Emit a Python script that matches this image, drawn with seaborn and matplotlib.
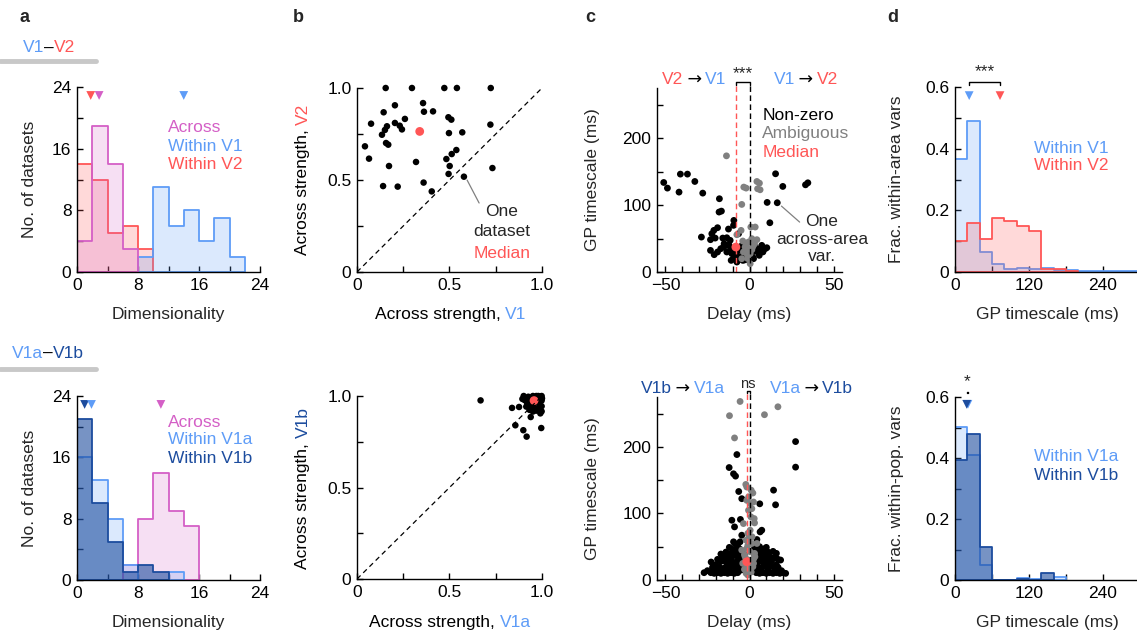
import numpy as np
import pandas as pd
import matplotlib
matplotlib.use("Agg")
import matplotlib.pyplot as plt
import seaborn as sns
from matplotlib.lines import Line2D

# style
sns.set_theme(style="ticks")
plt.rcParams["font.family"] = ["Liberation Sans", "DejaVu Sans"]
plt.rcParams["axes.linewidth"] = 1.0
plt.rcParams["axes.edgecolor"] = "black"

BLUE = "#5e9cf7"
RED = "#ff5656"
MAG = "#d45fc6"
DARK = "#1c4c9e"
GRAY = "#808080"
FS = 12
LFS = 12.5

# ---------------- data ----------------
# panel a: dimensionality histograms (bin width 2), counts start at given edge
a_top_across, a_top_across_start = [4, 19, 14, 3], 0
a_top_v1, a_top_v1_start = [2, 11, 6, 8, 4, 7, 2], 8
a_top_v2, a_top_v2_start = [14, 12, 5, 6, 3], 0
a_top_medians = {"Within V2": 1.8, "Across": 2.9, "Within V1": 14.0}

a_bot_across, a_bot_across_start = [2, 8, 14, 9, 7], 6
a_bot_v1a, a_bot_v1a_start = [16, 13, 8, 2, 0, 0, 1], 0
a_bot_v1b, a_bot_v1b_start = [21, 10, 5, 1, 2, 1], 0
a_bot_medians = {"Within V1b": 1.0, "Within V1a": 1.9, "Across": 11.0}

# panel b: across strength per dataset
b_top_x = [0.155, 0.297, 0.472, 0.54, 0.723, 0.357, 0.205, 0.144, 0.362, 0.411,
           0.259, 0.494, 0.510, 0.076, 0.205, 0.231, 0.243, 0.162, 0.151, 0.135,
           0.721, 0.497, 0.569, 0.043, 0.157, 0.169, 0.065, 0.537, 0.512, 0.483,
           0.319, 0.173, 0.501, 0.732, 0.495, 0.578, 0.141, 0.220, 0.360, 0.404]
b_top_y = [1.0, 1.0, 1.0, 1.0, 1.0, 0.918, 0.906, 0.868, 0.871, 0.873,
           0.832, 0.841, 0.828, 0.806, 0.810, 0.795, 0.775, 0.792, 0.772, 0.746,
           0.801, 0.755, 0.759, 0.683, 0.701, 0.692, 0.616, 0.663, 0.641, 0.614,
           0.598, 0.576, 0.576, 0.565, 0.533, 0.518, 0.467, 0.464, 0.486, 0.438]
b_top_median = (0.339, 0.764)

b_bot_x = [0.668, 0.838, 0.876, 0.856, 0.899, 0.917, 0.939, 0.996, 0.998, 0.998,
           0.901, 0.915, 0.924, 0.933, 0.948, 0.960, 0.951, 0.969, 0.978, 0.984,
           0.991, 0.969, 0.951, 0.942, 0.978, 0.998, 0.987, 0.926, 0.906, 0.955,
           0.933, 0.915, 1.0, 0.991, 0.966, 0.98, 0.94, 0.919, 0.998, 0.894]
b_bot_y = [0.976, 0.935, 0.94, 0.84, 0.813, 0.778, 0.885, 0.825, 0.944, 0.916,
           1.0, 0.987, 0.975, 0.96, 0.942, 0.927, 0.915, 0.92, 0.933, 0.969,
           0.996, 1.0, 1.0, 0.987, 0.987, 1.0, 0.951, 0.996, 0.978, 0.956,
           0.924, 0.942, 0.987, 0.905, 0.975, 1.0, 0.938, 0.964, 0.975, 0.984]
b_bot_median = (0.957, 0.975)

# panel c: delay vs GP timescale of across-area variables
c_top_black_delay = [-51.0, -48.8, -41.9, -41.1, -36.9, -32.5, -27.8, -17.9, -18.1, -16.7,
                     -9.3, -9.5, -12.5, -19.0, -21.2, -22.4, -28.6, -23.2, -20.4, -15.9,
                     -13.5, -23.2, -21.0, -17.1, -15.1, -12.1, -13.5, -10.5, -9.5, -7.5,
                     -10.9, -5.6, -4.4, -2.6, 2.4, 1.4, 4.8, 7.3, 6.3, 9.3,
                     10.3, 15.5, 19.8, 33.3, 34.7, 10.5, 16.5, 12.1, -4.8, -5.6,
                     -13.5, -15.5, -8.5, -11.5, -6.5, -19.0, 3.4, -0.6, -4.0, -7.5, 5.8,
                     -11, -8, -3, 2, 5, 8]
c_top_black_ts = [133.8, 125.4, 119.4, 146.3, 146.3, 135.3, 117.9, 109.5, 89.6, 91.0,
                  77.1, 69.7, 64.2, 66.2, 62.2, 57.2, 52.2, 48.3, 50.7, 50.7,
                  51.2, 32.3, 25.9, 34.8, 42.3, 39.8, 29.9, 27.4, 19.9, 22.4,
                  17.4, 32.3, 39.8, 27.4, 19.9, 28.9, 29.9, 39.8, 34.8, 34.8,
                  36.3, 146.8, 127.9, 130.3, 133.3, 104.0, 103.5, 73.6, 37.3, 22.4,
                  39.8, 37.3, 34.8, 47.3, 57.2, 29.9, 37.3, 18.4, 17.4, 14.9, 24.9,
                  33, 28, 18, 22, 33, 30]
c_top_gray_delay = [-13.7, -3.4, -2.0, 4.4, 5.9, 6.3, 4.8, -4.6, 0.8, 3.4,
                    -5.0, -7.5, 1.4, 4.4, -0.6, -4.0, -2.6, -0.6, 1.4, -1.6,
                    -3.6, 0.4, -1.2, 0.4, -4.6, -2, 2, 0, 3, -1]
c_top_gray_ts = [173.6, 126.9, 125.4, 135.3, 132.8, 122.9, 124.4, 101.0, 67.2, 67.2,
                 62.2, 55.7, 49.8, 48.3, 44.8, 46.3, 37.3, 34.8, 33.3, 31.3,
                 29.9, 27.4, 24.9, 12.4, 19.9, 40, 38, 30, 42, 20]
c_top_median = (-8.1, 37.3)

c_bot_black_delay = [-7.5, -12.1, -9.5, -8.3, -6.4, 14.3, 15.5, 6.1, 27.4, 27.4,
                     -4.6, -5.4, -10.5, -8.9, 7.3, -4.6, -9.5, -5.6, 4.4, 6.3, -8.7,
                     -27, -23, -21, -19, -17, -15, -13, -11, -9, -7, 4, 6, 8, 10, 12, 14, 16, 18, 20, 21.5,
                     -25, -20, -16, -12, -8, -5, 3, 7, 11, 15, 19,
                     -22, -18, -15, -12, -9, -6, 5, 8, 11, 14, 17,
                     -20, -13, -10, -7, -4, 4, 9, 12, 16,
                     -22.8, -17, -14, -11, -8, -5, 5, 7, 10, 13, 18.5,
                     -19, -15, -11, -6, 3, 8, 11, 14, 17,
                     -16, -13, -10, -7, -4, 4, 6, 9, 12, 15,
                     -17, -11, -7, -3, 3, 7, 10, 16,
                     -14, -9, -5, 4, 8, 11, 14,
                     -10, -6, 5, 9,
                     -12, -7, 3, 6, 10]
c_bot_black_ts = [188.5, 169.0, 159.6, 156.1, 133.0, 135.0, 113.0, 114.5, 208.0, 169.6,
                  122.2, 91.0, 89.8, 79.8, 74.8, 67.3, 57.4, 57.4, 60.8, 72.3, 54.7,
                  11, 11, 10, 11, 10, 11, 10, 11, 10, 11, 11, 10, 11, 10, 11, 10, 11, 10, 11, 10,
                  14, 15, 14, 15, 14, 15, 14, 15, 14, 15, 14,
                  19, 20, 18, 20, 19, 20, 19, 20, 18, 20, 19,
                  23, 24, 23, 24, 23, 24, 23, 24, 23,
                  27, 28, 27, 28, 27, 28, 27, 28, 27, 28, 30,
                  31, 32, 31, 32, 31, 32, 31, 32, 31,
                  35, 34, 36, 35, 34, 35, 34, 36, 35, 34,
                  39, 40, 39, 38, 39, 40, 39, 40,
                  42, 43, 41, 42, 43, 42, 43,
                  46, 47, 46, 47,
                  49, 50, 48, 50, 49]
c_bot_gray_delay = [-5.6, -11.9, 8.9, 16.9, -8.9, -2.2, -1.6, 2.0, -1.6, 0.4,
                    1.4, -0.6, 2.4, 2.8, 3.0, -3.6, 0.4, -0.6, -2.0, 1.4,
                    4.4, -1.6, 0.4, -2.6, -0.6, 1.4, -1.6, 0.0, -1.0, 0.8,
                    -3.0, -4.0, 2.4, 3.2, -4.6,
                    -2, 1, -1, 2, -2.5, 2.5, -3, 3, -1, 1.5, -1, 0.8, -0.5, 1]
c_bot_gray_ts = [268.3, 246.9, 248.4, 260.3, 213.5, 143.6, 139.7, 130.7, 119.7, 114.7,
                 107.2, 104.7, 117.2, 92.3, 85.8, 84.8, 74.8, 62.3, 59.9, 54.9,
                 54.9, 47.4, 42.4, 34.9, 29.9, 29.9, 22.4, 15.0, 7.5, 19.0,
                 16.0, 25.0, 25.0, 35.0, 45.0,
                 10, 12, 18, 20, 28, 32, 38, 40, 52, 65, 70, 95, 125, 135]
c_bot_median = (-1.6, 27.4)

# panel d: GP timescale histograms of within-area variables (bin width 20 ms)
d_top_v1 = [0.366, 0.491, 0.065, 0.027, 0.010, 0.012, 0.010, 0.012, 0.008, 0.005,
            0.003, 0.002, 0.002, 0.003, 0.002]
d_top_v2 = [0.100, 0.160, 0.107, 0.174, 0.167, 0.149, 0.133, 0.011, 0.010, 0.003]
d_top_medians = {"Within V1": 23, "Within V2": 73}
d_bot_v1a = [0.502, 0.411, 0.049, 0.0, 0.0, 0.008, 0.002, 0.0, 0.009]
d_bot_v1b = [0.393, 0.480, 0.109, 0.0, 0.0, 0.003, 0.0, 0.022]
d_bot_medians = {"Within V1a": 21, "Within V1b": 19}

ARROW = "\u2009\u2192\u2009"


# ---------------- helpers ----------------
def step_hist(ax, counts, start, width, color, alpha):
    edges = [start + width * i for i in range(len(counts) + 1)]
    df = pd.DataFrame({"x": [(edges[i] + edges[i + 1]) / 2 for i in range(len(counts))],
                       "w": counts})
    sns.histplot(data=df, x="x", weights="w", bins=edges, element="step", fill=True,
                 color=color, alpha=alpha, linewidth=1.3, ax=ax)


def rich_text(ax, x, y, parts, transform, size=LFS, rotation=0):
    # horizontal: x = left edge, y = centre ; vertical: x = centre, y = bottom
    if rotation == 0:
        t = ax.text(x, y, parts[0][0], color=parts[0][1], transform=transform,
                    ha="left", va="center", fontsize=size, clip_on=False)
        for s, c in parts[1:]:
            fam = ["DejaVu Sans"] if s == ARROW else ["Liberation Sans", "DejaVu Sans"]
            t = ax.annotate(s, xy=(1, 0.5), xycoords=t, ha="left", va="center",
                            color=c, fontsize=size, family=fam, annotation_clip=False)
    else:
        t = ax.text(x, y, parts[0][0], color=parts[0][1], transform=transform,
                    ha="center", va="bottom", rotation=90, fontsize=size, clip_on=False)
        for s, c in parts[1:]:
            t = ax.annotate(s, xy=(0.5, 1), xycoords=t, ha="center", va="bottom",
                            rotation=90, color=c, fontsize=size, annotation_clip=False)


def style(ax, xt, xl, yt, yl, xlim, ylim):
    sns.despine(ax=ax)
    ax.set_xlim(*xlim)
    ax.set_ylim(*ylim)
    ax.set_xticks(list(xt))
    ax.set_xticklabels(xl)
    ax.set_yticks(list(yt))
    ax.set_yticklabels(yl)
    ax.tick_params(direction="in", length=4, width=1, labelsize=FS + 0.5, pad=4, colors="black")
    ax.set_xlabel("")
    ax.set_ylabel("")


def labels(ax, xlabel, ylabel, ycoord):
    if xlabel:
        ax.set_xlabel(xlabel, fontsize=LFS, va="center")
        ax.xaxis.set_label_coords(0.5, -0.232)
    if ylabel:
        ax.set_ylabel(ylabel, fontsize=LFS, va="center")
        ax.yaxis.set_label_coords(ycoord, 0.5)


fig = plt.figure(figsize=(11.37, 6.36), dpi=100)
W, H = 1137, 636


def axes_px(x0, x1, ytop, ybot):
    return fig.add_axes([x0 / W, 1 - ybot / H, (x1 - x0) / W, (ybot - ytop) / H])


ax_a1 = axes_px(77, 260, 87, 272)
ax_a2 = axes_px(77, 260, 396, 580)
ax_b1 = axes_px(357, 542, 88, 272)
ax_b2 = axes_px(357, 542, 396, 579)
ax_c1 = axes_px(657, 842, 88, 272)
ax_c2 = axes_px(657, 842, 397, 580)
ax_d1 = axes_px(955, 1140, 87, 272)
ax_d2 = axes_px(955, 1140, 397, 580)

# panel letters and headers
for letter, xp in [("a", 25), ("b", 298), ("c", 590), ("d", 893)]:
    fig.text(xp / W, 1 - 18 / H, letter, fontsize=13, fontweight="bold", ha="center", va="center")

rich_text(ax_a1, 23 / W, 1 - 48 / H, [("V1", BLUE), ("\u2013", "black"), ("V2", RED)], fig.transFigure)
rich_text(ax_a2, 12 / W, 1 - 353 / H, [("V1a", BLUE), ("\u2013", "black"), ("V1b", DARK)], fig.transFigure)
for yp in [61, 369]:
    fig.add_artist(Line2D([0, 96 / W], [1 - yp / H, 1 - yp / H], color="#c8c8c8", lw=3.5,
                          transform=fig.transFigure))

# ---------------- panel a ----------------
ax = ax_a1
step_hist(ax, a_top_v2, a_top_v2_start, 2, RED, 0.22)
step_hist(ax, a_top_v1, a_top_v1_start, 2, BLUE, 0.22)
step_hist(ax, a_top_across, a_top_across_start, 2, MAG, 0.2)
sns.scatterplot(x=list(a_top_medians.values()), y=[22.9] * 3, hue=list(a_top_medians.keys()),
                palette={"Within V2": RED, "Across": MAG, "Within V1": BLUE},
                marker="v", s=40, edgecolor="none", legend=False, ax=ax, clip_on=False)
style(ax, range(0, 25, 4), ["0", "", "8", "", "16", "", "24"],
      range(0, 25, 4), ["0", "", "8", "", "16", "", "24"], (0, 24), (0, 24))
for txt, col, yy in [("Across", MAG, 18.7), ("Within V1", BLUE, 16.3), ("Within V2", RED, 14.0)]:
    ax.text(11.9, yy, txt, color=col, fontsize=LFS, va="center")
labels(ax, "Dimensionality", "No. of datasets", -0.257)

ax = ax_a2
step_hist(ax, a_bot_across, a_bot_across_start, 2, MAG, 0.2)
step_hist(ax, a_bot_v1a, a_bot_v1a_start, 2, BLUE, 0.22)
step_hist(ax, a_bot_v1b, a_bot_v1b_start, 2, DARK, 0.6)
sns.scatterplot(x=list(a_bot_medians.values()), y=[22.9] * 3, hue=list(a_bot_medians.keys()),
                palette={"Within V1b": DARK, "Within V1a": BLUE, "Across": MAG},
                marker="v", s=40, edgecolor="none", legend=False, ax=ax, clip_on=False)
style(ax, range(0, 25, 4), ["0", "", "8", "", "16", "", "24"],
      range(0, 25, 4), ["0", "", "8", "", "16", "", "24"], (0, 24), (0, 24))
for txt, col, yy in [("Across", MAG, 20.6), ("Within V1a", BLUE, 18.3), ("Within V1b", DARK, 15.9)]:
    ax.text(11.9, yy, txt, color=col, fontsize=LFS, va="center")
labels(ax, "Dimensionality", "No. of datasets", -0.257)

# ---------------- panel b ----------------
for ax, xs, ys, med in [(ax_b1, b_top_x, b_top_y, b_top_median),
                        (ax_b2, b_bot_x, b_bot_y, b_bot_median)]:
    ax.plot([0, 1], [0, 1], ls=(0, (4, 3)), color="black", lw=0.9)
    sns.scatterplot(x=xs, y=ys, color="black", s=22, edgecolor="none", ax=ax, clip_on=False)
    sns.scatterplot(x=[med[0]], y=[med[1]], color=RED, s=40, edgecolor="none", ax=ax, clip_on=False)
    style(ax, [0, 0.25, 0.5, 0.75, 1.0], ["0", "", "0.5", "", "1.0"],
          [0, 0.25, 0.5, 0.75, 1.0], ["0", "", "0.5", "", "1.0"], (0, 1), (0, 1))

ax = ax_b1
ax.plot([0.595, 0.66], [0.50, 0.375], color=GRAY, lw=0.9)
ax.text(0.784, 0.33, "One", fontsize=LFS, ha="center", va="center")
ax.text(0.784, 0.22, "dataset", fontsize=LFS, ha="center", va="center")
ax.text(0.784, 0.098, "Median", fontsize=LFS, ha="center", va="center", color=RED)
rich_text(ax, 0.095, -0.232, [("Across strength, ", "black"), ("V1", BLUE)], ax.transAxes)
rich_text(ax, -0.292, 0.09, [("Across strength, ", "black"), ("V2", RED)], ax.transAxes, rotation=90)

ax = ax_b2
rich_text(ax, 0.065, -0.24, [("Across strength, ", "black"), ("V1a", BLUE)], ax.transAxes)
rich_text(ax, -0.292, 0.055, [("Across strength, ", "black"), ("V1b", DARK)], ax.transAxes, rotation=90)

# ---------------- panel c ----------------
for ax, bd, bt, gd, gt, med in [
        (ax_c1, c_top_black_delay, c_top_black_ts, c_top_gray_delay, c_top_gray_ts, c_top_median),
        (ax_c2, c_bot_black_delay, c_bot_black_ts, c_bot_gray_delay, c_bot_gray_ts, c_bot_median)]:
    ax.plot([med[0], med[0]], [0, 282], ls=(0, (4, 2.5)), color=RED, lw=1, clip_on=False)
    ax.plot([0, 0], [0, 282], ls=(0, (4, 2.5)), color="black", lw=1, clip_on=False)
    sns.scatterplot(x=bd, y=bt, color="black", s=24, edgecolor="none", ax=ax, clip_on=False)
    sns.scatterplot(x=gd, y=gt, color=GRAY, s=24, edgecolor="none", ax=ax, clip_on=False)
    sns.scatterplot(x=[med[0]], y=[med[1]], color=RED, s=40, edgecolor="none", ax=ax, clip_on=False)
    style(ax, range(-50, 51, 10), ["\u221250", "", "", "", "", "0", "", "", "", "", "50"],
          range(0, 251, 50), ["0", "", "100", "", "200", ""], (-55, 55), (0, 275))
    labels(ax, "Delay (ms)", "GP timescale (ms)", -0.346)

ax = ax_c1
ax.plot([-8.1, -8.1, 0, 0], [280, 283.5, 283.5, 280], color="black", lw=1, clip_on=False)
ax.text(-4, 296, "***", fontsize=LFS, ha="center", va="center")
rich_text(ax, -51.8, 288, [("V2", RED), (ARROW, "black"), ("V1", BLUE)], ax.transData)
rich_text(ax, 14.3, 288, [("V1", BLUE), (ARROW, "black"), ("V2", RED)], ax.transData)
for txt, col, yy in [("Non-zero", "black", 234), ("Ambiguous", GRAY, 207), ("Median", RED, 179)]:
    ax.text(7.7, yy, txt, color=col, fontsize=LFS, va="center")
ax.plot([19, 29.8], [98.5, 74.6], color=GRAY, lw=0.9)
ax.text(43, 49, "One\nacross-area\nvar.", fontsize=LFS, ha="center", va="center", linespacing=1.2)

ax = ax_c2
ax.plot([-1.6, -1.6, 0, 0], [281, 283.5, 283.5, 281], color="black", lw=1, clip_on=False)
ax.text(-0.8, 294, "ns", fontsize=10.5, ha="center", va="center")
rich_text(ax, -64.3, 288, [("V1b", DARK), (ARROW, "black"), ("V1a", BLUE)], ax.transData)
rich_text(ax, 11.9, 288, [("V1a", BLUE), (ARROW, "black"), ("V1b", DARK)], ax.transData)

# ---------------- panel d ----------------
ax = ax_d1
step_hist(ax, d_top_v1, 0, 20, BLUE, 0.22)
step_hist(ax, d_top_v2, 0, 20, RED, 0.22)
sns.scatterplot(x=list(d_top_medians.values()), y=[0.572] * 2, hue=list(d_top_medians.keys()),
                palette={"Within V1": BLUE, "Within V2": RED},
                marker="v", s=40, edgecolor="none", legend=False, ax=ax, clip_on=False)
style(ax, range(0, 301, 60), ["0", "", "120", "", "240", ""],
      np.arange(0, 0.61, 0.1), ["0", "", "0.2", "", "0.4", "", "0.6"], (0, 300), (0, 0.6))
ax.plot([23, 23, 73, 73], [0.606, 0.616, 0.616, 0.606], color="black", lw=1, clip_on=False)
ax.text(48, 0.651, "***", fontsize=LFS, ha="center", va="center")
ax.text(128, 0.402, "Within V1", color=BLUE, fontsize=LFS, va="center")
ax.text(128, 0.344, "Within V2", color=RED, fontsize=LFS, va="center")
labels(ax, "GP timescale (ms)", "Frac. within-area vars", -0.314)

ax = ax_d2
step_hist(ax, d_bot_v1a, 0, 20, BLUE, 0.22)
step_hist(ax, d_bot_v1b, 0, 20, DARK, 0.6)
sns.scatterplot(x=list(d_bot_medians.values()), y=[0.576] * 2, hue=list(d_bot_medians.keys()),
                palette={"Within V1a": BLUE, "Within V1b": DARK},
                marker="v", s=40, edgecolor="none", legend=False, ax=ax, clip_on=False)
style(ax, range(0, 301, 60), ["0", "", "120", "", "240", ""],
      np.arange(0, 0.61, 0.1), ["0", "", "0.2", "", "0.4", "", "0.6"], (0, 300), (0, 0.6))
ax.plot([19, 19, 21, 21], [0.612, 0.617, 0.617, 0.612], color="black", lw=1, clip_on=False)
ax.text(20, 0.652, "*", fontsize=LFS, ha="center", va="center")
ax.text(128, 0.406, "Within V1a", color=BLUE, fontsize=LFS, va="center")
ax.text(128, 0.344, "Within V1b", color=DARK, fontsize=LFS, va="center")
labels(ax, "GP timescale (ms)", "Frac. within-pop. vars", -0.314)

fig.savefig("out.png", dpi=100)
